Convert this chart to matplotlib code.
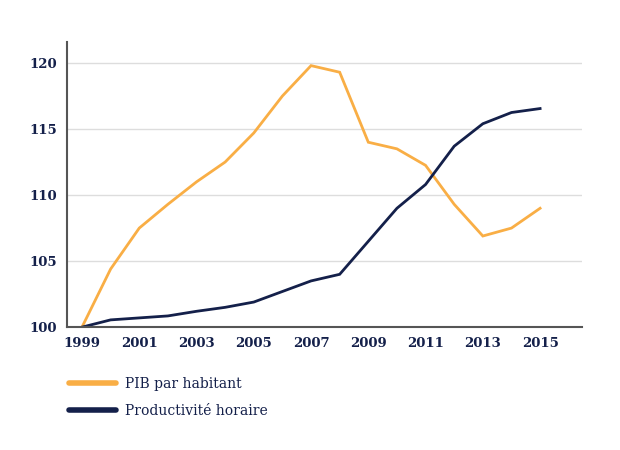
import matplotlib
matplotlib.use("Agg")
import matplotlib.pyplot as plt
from matplotlib.lines import Line2D

years = list(range(1999, 2016))
pib = [100, 104.4, 107.5, 109.3, 111.0, 112.5, 114.7, 117.5, 119.8, 119.3,
       114.0, 113.5, 112.25, 109.3, 106.9, 107.5, 109.0]
prod = [100, 100.55, 100.7, 100.85, 101.2, 101.5, 101.9, 102.7, 103.5, 104.0,
        106.5, 109.0, 110.8, 113.7, 115.4, 116.25, 116.55]
xticks = list(range(1999, 2016, 2))
yticks = [100, 105, 110, 115, 120]
labels = ["PIB par habitant", "Productivité horaire"]

orange = "#F9AE45"
navy = "#14204A"

fig = plt.figure(figsize=(6.2, 4.5), dpi=100)
ax = fig.add_axes([0.108, 0.273, 0.831, 0.634])

ax.plot(years, pib, color=orange, lw=2, solid_joinstyle="miter")
ax.plot(years, prod, color=navy, lw=2, solid_joinstyle="miter")

ax.set_xlim(1998.475, 2016.47)
ax.set_ylim(100, 121.6)
ax.set_xticks(xticks)
ax.set_yticks(yticks)
ax.set_xticklabels([str(x) for x in xticks])
ax.set_yticklabels([str(y) for y in yticks])
for lab in ax.get_xticklabels() + ax.get_yticklabels():
    lab.set_fontfamily("DejaVu Serif")
    lab.set_fontweight("bold")
    lab.set_fontsize(9.5)
    lab.set_color(navy)
ax.tick_params(axis="both", length=0)
ax.tick_params(axis="y", pad=7)
ax.tick_params(axis="x", pad=7)

ax.grid(axis="y", color="#dddddd", lw=1)
ax.set_axisbelow(True)
for s in ["top", "right"]:
    ax.spines[s].set_visible(False)
for s in ["left", "bottom"]:
    ax.spines[s].set_color("#555555")
    ax.spines[s].set_linewidth(1.5)

handles = [Line2D([0], [0], color=orange, lw=4, solid_capstyle="round"),
           Line2D([0], [0], color=navy, lw=4, solid_capstyle="round")]
fig.legend(handles, labels, loc="upper left", bbox_to_anchor=(0.1105, 0.162),
           frameon=False, borderpad=0, borderaxespad=0,
           handlelength=3.4, handletextpad=0.65, labelspacing=0.95,
           prop={"family": "DejaVu Serif", "size": 10}, labelcolor=navy)

fig.savefig("out.png", dpi=100)
